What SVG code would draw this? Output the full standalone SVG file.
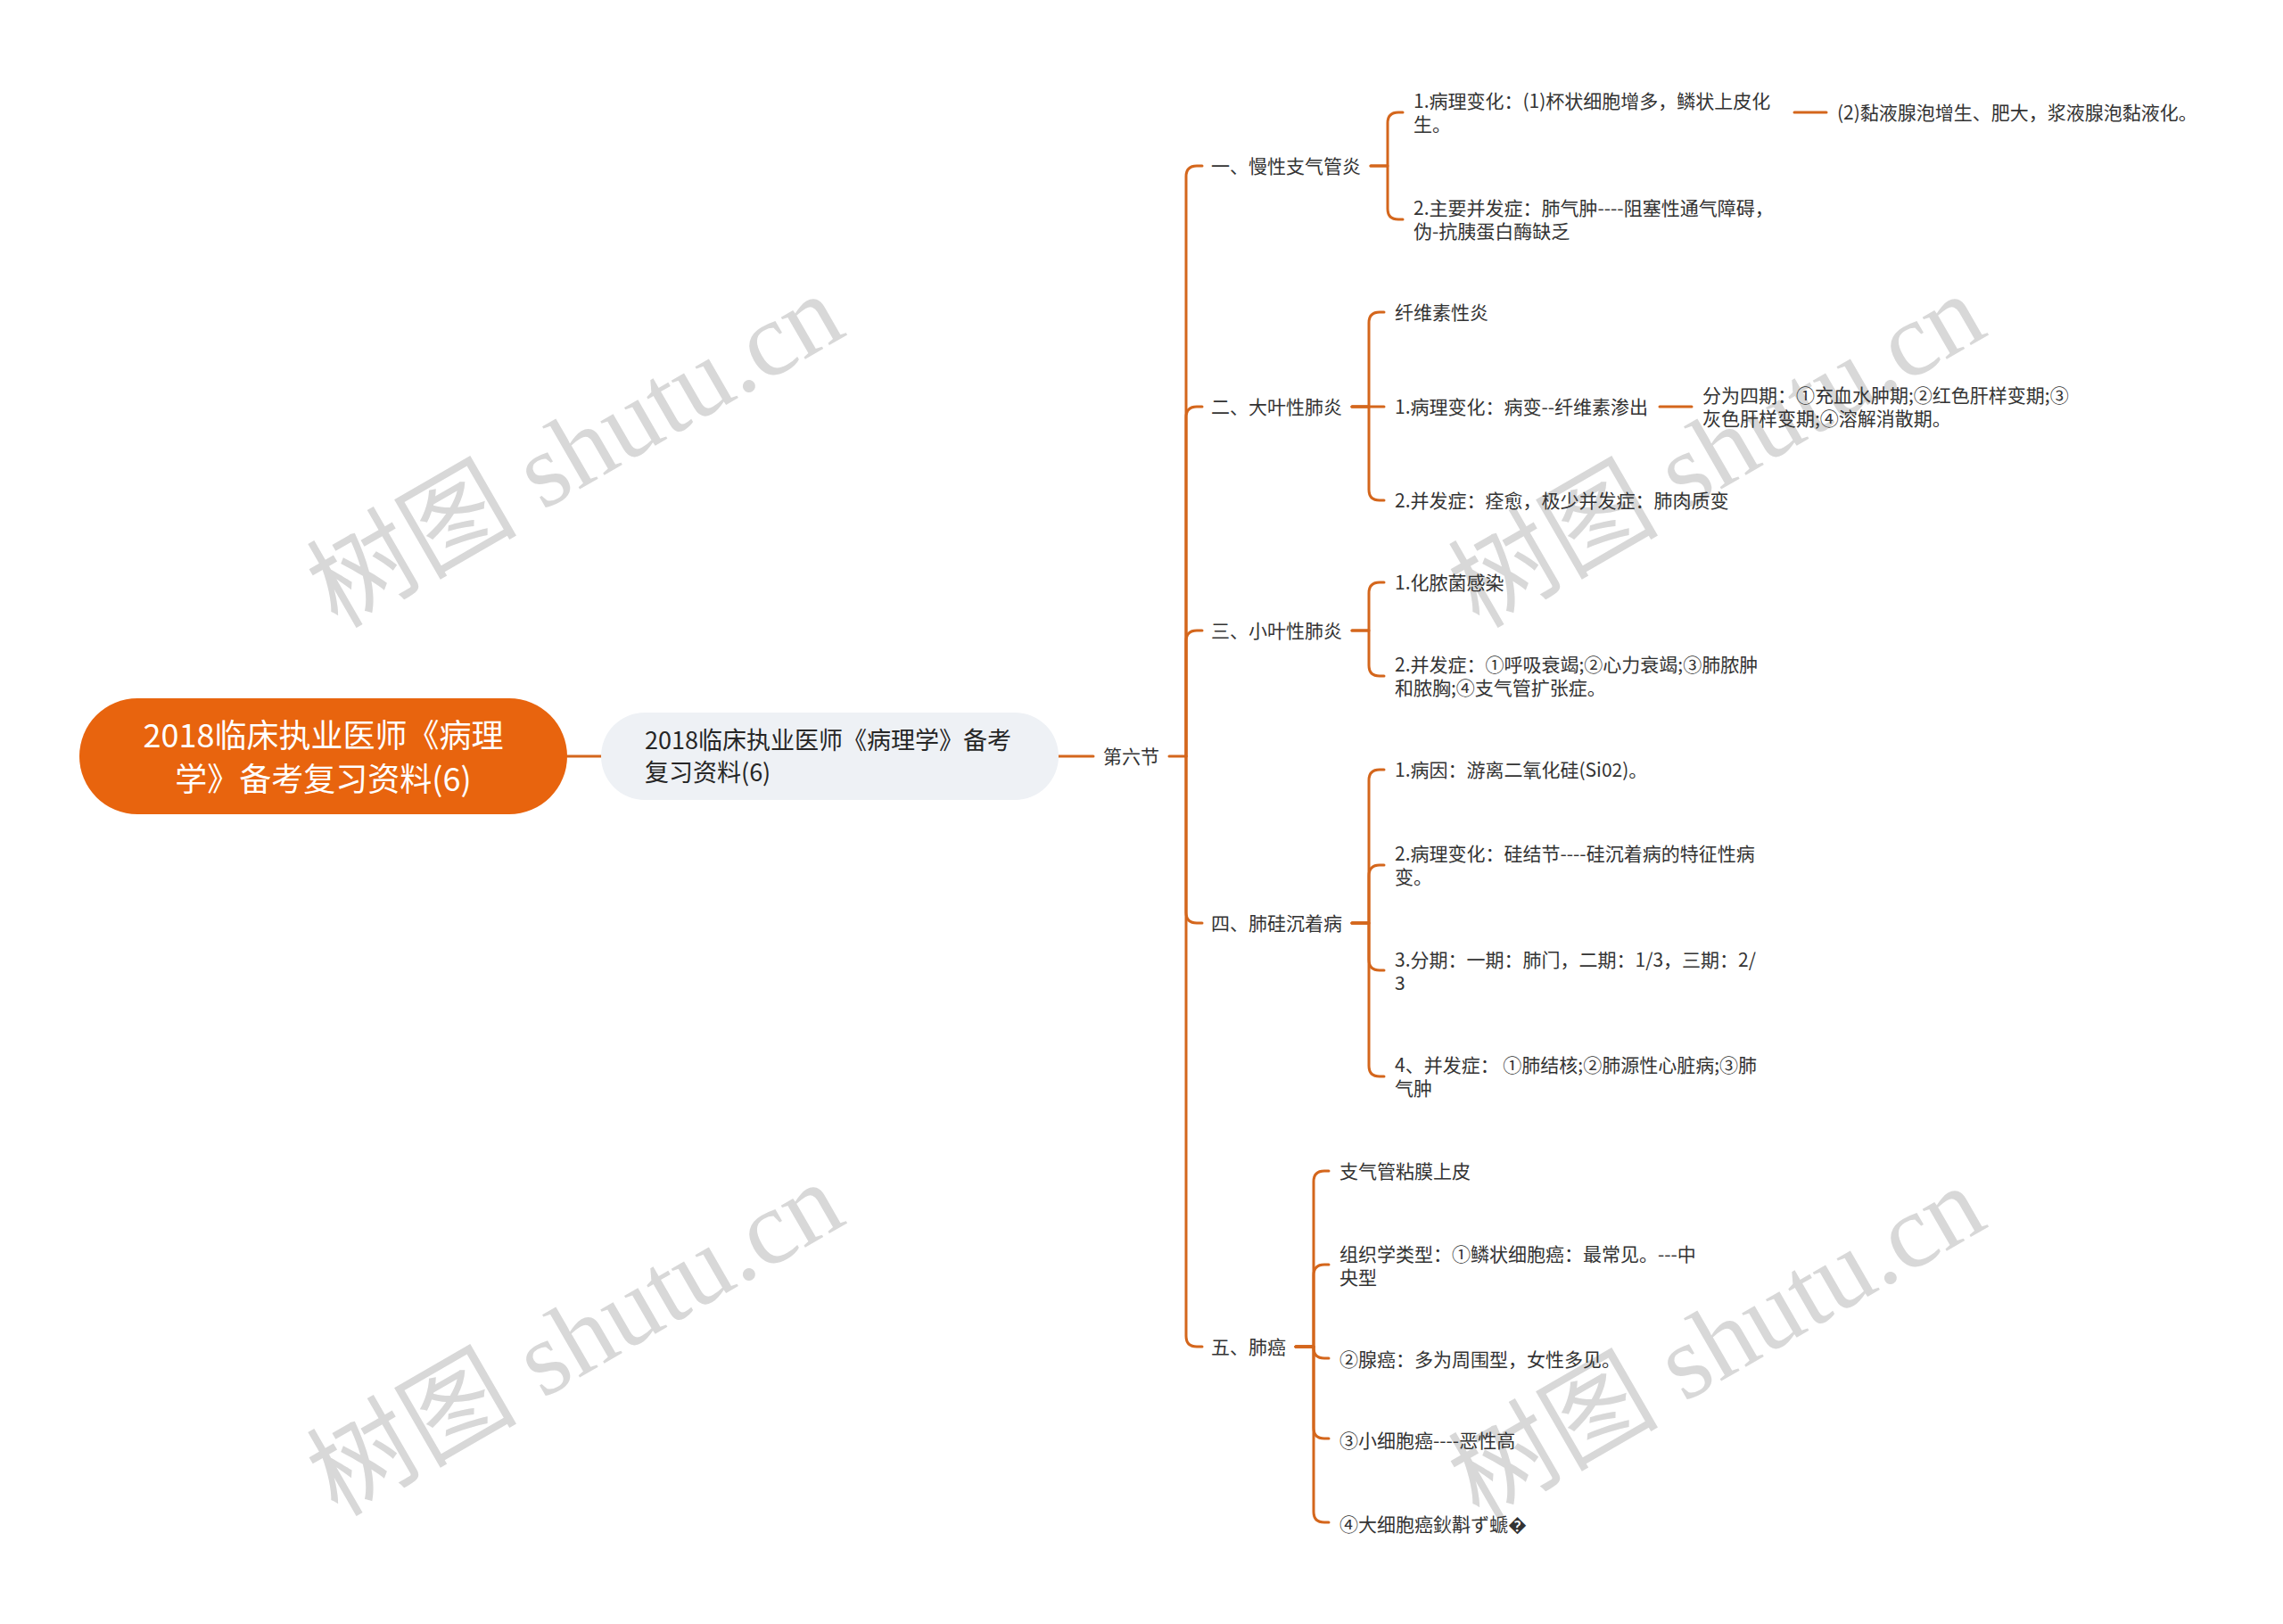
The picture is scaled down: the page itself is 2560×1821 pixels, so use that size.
<svg xmlns="http://www.w3.org/2000/svg" width="2560" height="1821" viewBox="0 0 2560 1821">
<style>
.ln{fill:none;stroke:#D4661C;stroke-width:3;stroke-linecap:round;stroke-linejoin:round}
.t{font-family:"Noto Sans CJK SC","Microsoft YaHei",sans-serif;font-size:21px;fill:#333}
.t2{font-family:"Noto Sans CJK SC","Microsoft YaHei",sans-serif;font-size:27px;fill:#262626}
.t1{font-family:"Noto Sans CJK SC","Microsoft YaHei",sans-serif;font-size:36px;fill:#fff}
.wm{font-family:"Liberation Serif","Noto Sans CJK SC",serif;font-size:118px;fill:#d8d8d8}
</style>
<rect width="2560" height="1821" fill="#fff"/>
<g id="watermark">
<text class="wm" text-anchor="middle" transform="translate(665 540) rotate(-30)">树图 shutu.cn</text>
<text class="wm" text-anchor="middle" transform="translate(1945 540) rotate(-30)">树图 shutu.cn</text>
<text class="wm" text-anchor="middle" transform="translate(665 1536) rotate(-30)">树图 shutu.cn</text>
<text class="wm" text-anchor="middle" transform="translate(1945 1540) rotate(-30)">树图 shutu.cn</text>
</g>
<g id="connectors">
<path class="ln" d="M636 848H674"/>
<path class="ln" d="M1187 848H1226"/>
<path class="ln" d="M1311 848H1330"/>
<path class="ln" d="M1330 848V198Q1330 186 1342 186H1348"/>
<path class="ln" d="M1330 848V468Q1330 456 1342 456H1348"/>
<path class="ln" d="M1330 848V719Q1330 707 1342 707H1348"/>
<path class="ln" d="M1330 848V1023Q1330 1035 1342 1035H1348"/>
<path class="ln" d="M1330 848V1498Q1330 1510 1342 1510H1348"/>
<path class="ln" d="M1537 186H1556V138Q1556 126 1568 126H1573"/>
<path class="ln" d="M1537 186H1556V234Q1556 246 1568 246H1573"/>
<path class="ln" d="M2012 126H2048"/>
<path class="ln" d="M1516 456H1535V362Q1535 350 1547 350H1552"/>
<path class="ln" d="M1516 456H1552"/>
<path class="ln" d="M1516 456H1535V549Q1535 561 1547 561H1552"/>
<path class="ln" d="M1861 456H1897"/>
<path class="ln" d="M1516 707H1535V665Q1535 653 1547 653H1552"/>
<path class="ln" d="M1516 707H1535V746Q1535 758 1547 758H1552"/>
<path class="ln" d="M1516 1035H1535V875Q1535 863 1547 863H1552"/>
<path class="ln" d="M1516 1035H1535V982Q1535 970 1547 970H1552"/>
<path class="ln" d="M1516 1035H1535V1076Q1535 1088 1547 1088H1552"/>
<path class="ln" d="M1516 1035H1535V1195Q1535 1207 1547 1207H1552"/>
<path class="ln" d="M1453 1510H1473V1325Q1473 1313 1485 1313H1490"/>
<path class="ln" d="M1453 1510H1473V1430Q1473 1418 1485 1418H1490"/>
<path class="ln" d="M1453 1510H1473V1511Q1473 1523 1485 1523H1490"/>
<path class="ln" d="M1453 1510H1473V1601Q1473 1613 1485 1613H1490"/>
<path class="ln" d="M1453 1510H1473V1695Q1473 1707 1485 1707H1490"/>
</g>
<g id="root">
<rect x="89" y="783" width="547" height="130" rx="65" fill="#E8640E"/>
<text class="t1" x="362.5" y="838" text-anchor="middle">2018临床执业医师《病理</text>
<text class="t1" x="362.5" y="887" text-anchor="middle">学》备考复习资料(6)</text>
</g>
<g id="main">
<rect x="674" y="799" width="513" height="98" rx="49" fill="#EEF1F5"/>
<text class="t2" x="723" y="840">2018临床执业医师《病理学》备考</text>
<text class="t2" x="723" y="876">复习资料(6)</text>
</g>
<g id="sec6"><text class="t" x="1237" y="856">第六节</text></g>
<g id="n1"><text class="t" x="1358" y="194">一、慢性支气管炎</text></g>
<g id="n1-1"><text class="t" x="1585" y="121">1.病理变化：(1)杯状细胞增多，鳞状上皮化</text><text class="t" x="1585" y="147">生。</text></g>
<g id="n1-1-1"><text class="t" x="2060" y="134">(2)黏液腺泡增生、肥大，浆液腺泡黏液化。</text></g>
<g id="n1-2"><text class="t" x="1585" y="241">2.主要并发症：肺气肿----阻塞性通气障碍，</text><text class="t" x="1585" y="267">伪-抗胰蛋白酶缺乏</text></g>
<g id="n2"><text class="t" x="1358" y="464">二、大叶性肺炎</text></g>
<g id="n2-0"><text class="t" x="1564" y="358">纤维素性炎</text></g>
<g id="n2-1"><text class="t" x="1564" y="464">1.病理变化：病变--纤维素渗出</text></g>
<g id="n2-1-1"><text class="t" x="1909" y="451">分为四期：①充血水肿期;②红色肝样变期;③</text><text class="t" x="1909" y="477">灰色肝样变期;④溶解消散期。</text></g>
<g id="n2-2"><text class="t" x="1564" y="569">2.并发症：痊愈，极少并发症：肺肉质变</text></g>
<g id="n3"><text class="t" x="1358" y="715">三、小叶性肺炎</text></g>
<g id="n3-1"><text class="t" x="1564" y="661">1.化脓菌感染</text></g>
<g id="n3-2"><text class="t" x="1564" y="753">2.并发症：①呼吸衰竭;②心力衰竭;③肺脓肿</text><text class="t" x="1564" y="779">和脓胸;④支气管扩张症。</text></g>
<g id="n4"><text class="t" x="1358" y="1043">四、肺硅沉着病</text></g>
<g id="n4-1"><text class="t" x="1564" y="871">1.病因：游离二氧化硅(Si02)。</text></g>
<g id="n4-2"><text class="t" x="1564" y="965">2.病理变化：硅结节----硅沉着病的特征性病</text><text class="t" x="1564" y="991">变。</text></g>
<g id="n4-3"><text class="t" x="1564" y="1084">3.分期：一期：肺门，二期：1/3，三期：2/</text><text class="t" x="1564" y="1110">3</text></g>
<g id="n4-4"><text class="t" x="1564" y="1202">4、并发症： ①肺结核;②肺源性心脏病;③肺</text><text class="t" x="1564" y="1228">气肿</text></g>
<g id="n5"><text class="t" x="1358" y="1518">五、肺癌</text></g>
<g id="n5-1"><text class="t" x="1502" y="1321">支气管粘膜上皮</text></g>
<g id="n5-2"><text class="t" x="1502" y="1414">组织学类型：①鳞状细胞癌：最常见。---中</text><text class="t" x="1502" y="1440">央型</text></g>
<g id="n5-3"><text class="t" x="1502" y="1532">②腺癌：多为周围型，女性多见。</text></g>
<g id="n5-4"><text class="t" x="1502" y="1623">③小细胞癌----恶性高</text></g>
<g id="n5-5"><text class="t" x="1502" y="1717">④大细胞癌鈥斠ず螔�</text></g>
</svg>
